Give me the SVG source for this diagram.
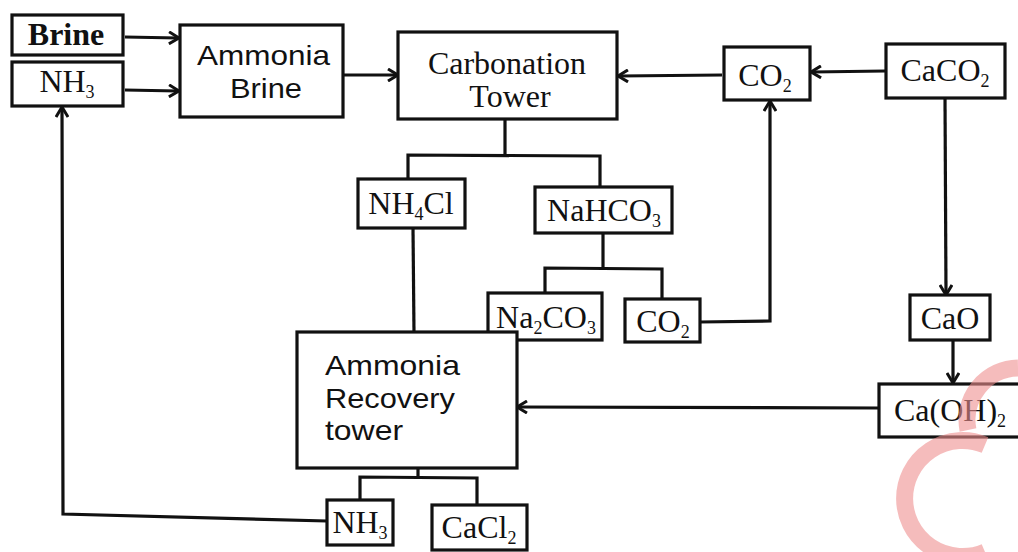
<svg xmlns="http://www.w3.org/2000/svg" width="1018" height="552" viewBox="0 0 1018 552">
<style>
.box{fill:#fff;stroke:#111;stroke-width:3.2}
.ln{fill:none;stroke:#111;stroke-width:3.2}
.ar{fill:none;stroke:#111;stroke-width:3.2;marker-end:url(#arr)}
.t{font-family:"Liberation Serif","Times New Roman",serif;font-size:32px;fill:#111;text-anchor:middle}
.s{font-family:"Liberation Sans",Arial,sans-serif;font-size:28px;fill:#111}
.sub{font-size:18px}
</style>
<defs>
<marker id="arr" markerWidth="14" markerHeight="14" refX="11" refY="7" orient="auto" markerUnits="userSpaceOnUse">
<path d="M2,1 L12,7 L2,13" fill="none" stroke="#111" stroke-width="3"/>
</marker>
</defs>
<rect width="1018" height="552" fill="#fff"/>

<g id="connectors">
<line class="ar" x1="125" y1="37" x2="178" y2="38"/>
<line class="ar" x1="125" y1="90" x2="178" y2="91"/>
<line class="ar" x1="343" y1="75" x2="397" y2="75"/>
<line class="ar" x1="722" y1="75" x2="619" y2="76"/>
<line class="ar" x1="885" y1="71" x2="812" y2="72"/>
<polyline class="ar" points="945,98 946,294"/>
<polyline class="ar" points="953,340 953,382"/>
<line class="ar" x1="878" y1="408" x2="518" y2="407"/>
<polyline class="ln" points="505,118 505,155"/>
<polyline class="ln" points="408,178 408,155 600,156 600,187"/>
<polyline class="ln" points="413,228 414,333"/>
<polyline class="ln" points="603,233 603,268"/>
<polyline class="ln" points="545,292 545,268 662,269 662,298"/>
<polyline class="ar" points="700,322 770,321 770,102"/>
<polyline class="ln" points="418,468 418,477"/>
<polyline class="ln" points="360,500 360,477 477,478 477,505"/>
<polyline class="ar" points="327,521 63,514 62,108"/>
</g>

<g id="brine"><rect class="box" x="12" y="15" width="111" height="40"/><text class="t" x="66" y="45" font-size="30" font-weight="bold">Brine</text></g>
<g id="nh3-top"><rect class="box" x="12" y="62" width="111" height="44"/><text class="t" x="67" y="92">NH<tspan class="sub" dy="6">3</tspan></text></g>
<g id="ammonia-brine"><rect class="box" x="180" y="25" width="163" height="92"/><text class="s" x="197" y="65" textLength="133" lengthAdjust="spacingAndGlyphs">Ammonia</text><text class="s" x="230" y="98" textLength="72" lengthAdjust="spacingAndGlyphs">Brine</text></g>
<g id="carbonation"><rect class="box" x="398" y="32" width="219" height="87"/><text class="t" x="507" y="74" font-size="33">Carbonation</text><text class="t" x="510" y="107" font-size="33">Tower</text></g>
<g id="co2-top"><rect class="box" x="724" y="47" width="86" height="53"/><text class="t" x="765" y="86">CO<tspan class="sub" dy="6">2</tspan></text></g>
<g id="caco2"><rect class="box" x="886" y="44" width="119" height="54"/><text class="t" x="945" y="81">CaCO<tspan class="sub" dy="6">2</tspan></text></g>
<g id="nh4cl"><rect class="box" x="358" y="179" width="107" height="49"/><text class="t" x="411" y="214">NH<tspan class="sub" dy="6">4</tspan><tspan dy="-6">Cl</tspan></text></g>
<g id="nahco3"><rect class="box" x="535" y="187" width="137" height="46"/><text class="t" x="604" y="221">NaHCO<tspan class="sub" dy="6">3</tspan></text></g>
<g id="na2co3"><rect class="box" x="488" y="293" width="114" height="47"/><text class="t" x="546" y="328">Na<tspan class="sub" dy="6">2</tspan><tspan dy="-6">CO</tspan><tspan class="sub" dy="6">3</tspan></text></g>
<g id="co2-bottom"><rect class="box" x="625" y="299" width="75" height="43"/><text class="t" x="663" y="332">CO<tspan class="sub" dy="6">2</tspan></text></g>
<g id="recovery"><rect class="box" x="297" y="332" width="220" height="136"/><text class="s" x="325" y="375" textLength="135" lengthAdjust="spacingAndGlyphs">Ammonia</text><text class="s" x="325" y="408" textLength="130" lengthAdjust="spacingAndGlyphs">Recovery</text><text class="s" x="325" y="440" textLength="78" lengthAdjust="spacingAndGlyphs">tower</text></g>
<g id="cao"><rect class="box" x="910" y="295" width="80" height="45"/><text class="t" x="950" y="329">CaO</text></g>
<g id="caoh2"><rect class="box" x="879" y="384" width="145" height="53"/><text class="t" x="950" y="421">Ca(OH)<tspan class="sub" dy="6">2</tspan></text></g>
<g id="nh3-bottom"><rect class="box" x="327" y="500" width="66" height="45"/><text class="t" x="360" y="533">NH<tspan class="sub" dy="6">3</tspan></text></g>
<g id="cacl2"><rect class="box" x="432" y="505" width="95" height="45"/><text class="t" x="479" y="538">CaCl<tspan class="sub" dy="6">2</tspan></text></g>

<g id="watermark" fill="none" stroke="#ee8f8f" stroke-opacity="0.6" stroke-width="17">
<path d="M985,445 A58,58 0 1 0 985,552"/>
<path d="M968,430 A52,52 0 0 1 1018,368"/>
</g>
</svg>
